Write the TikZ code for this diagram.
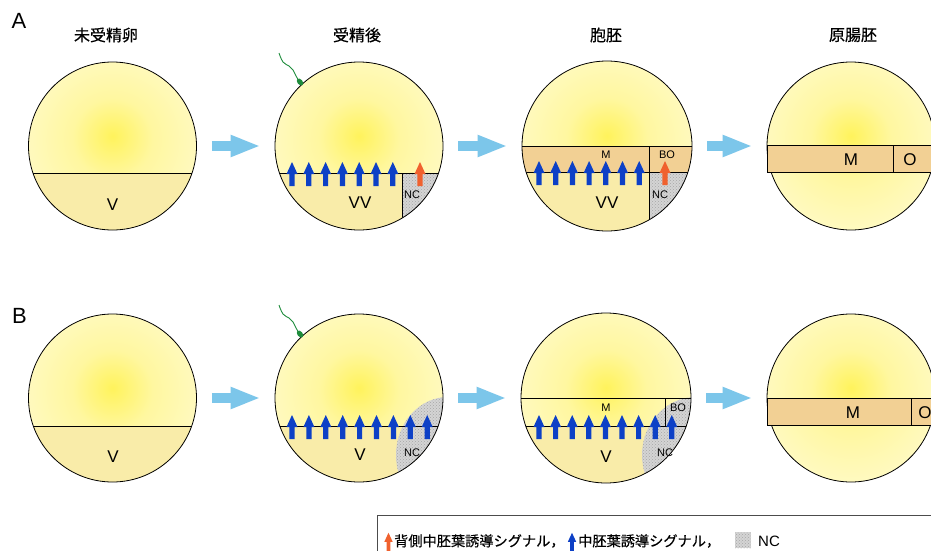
\documentclass[tikz,border=0pt]{standalone}
\usepackage{fontspec}
\setmainfont{Liberation Sans}
\newfontfamily\jp[FakeBold=0.4]{Noto Sans CJK JP}
\usetikzlibrary{arrows.meta,patterns}

\definecolor{eggin}{HTML}{FFF35C}
\definecolor{eggmid}{HTML}{FFF7A0}
\definecolor{eggout}{HTML}{FFFCDA}
\definecolor{yolk}{HTML}{F9ECA9}
\definecolor{meso}{HTML}{F2D094}
\definecolor{ncgray}{HTML}{D4D4D4}
\definecolor{sigblue}{HTML}{0D40C6}
\definecolor{sigorange}{HTML}{F0612E}
\definecolor{flowblue}{HTML}{7CC6EA}
\definecolor{spermgreen}{HTML}{1E8C3C}

% yellow glow of the egg cytoplasm, slightly above the centre
\pgfdeclareradialshading{egg}{\pgfpoint{0bp}{3bp}}{color(0bp)=(eggin); color(12bp)=(eggmid); color(38bp)=(eggout); color(50bp)=(eggout)}

\tikzset{
  cut/.style={draw=black, line width=0.8pt},
  ncfill/.style={preaction={fill=ncgray}, pattern=crosshatch dots, pattern color=gray!70},
  lab/.style={font=\fontsize{17}{17}\selectfont, inner sep=0},
  biglab/.style={font=\fontsize{22}{22}\selectfont, inner sep=0},
  small/.style={font=\fontsize{11}{11}\selectfont, inner sep=0},
  title/.style={font=\jp\fontsize{16}{16}\selectfont, inner sep=0},
  legtext/.style={font=\jp\fontsize{14.2}{14.2}\selectfont, inner sep=0, anchor=west},
  eggnode/.style={circle, minimum size=#1, inner sep=0, draw=black, line width=0.8pt},
  eggnode/.default=168pt,
  flow/.style={line width=10pt, draw=flowblue, -{Triangle[length=30pt,width=20pt]}, shorten <=15pt, shorten >=14pt},
  sig/.pic={\fill[pic actions] (0,-11) -- (5.5,1) -- (2.6,1) -- (2.6,13) -- (-2.6,13) -- (-2.6,1) -- (-5.5,1) -- cycle;},
  sperm/.pic={
    \draw[spermgreen, line width=0.9pt] plot[smooth, tension=0.7] coordinates {(0,0) (4,9) (10,13) (14,17) (17,23) (20,28)};
    \fill[spermgreen, rotate around={-50:(21,29)}] (21,29) ellipse (4 and 2.6);
  },
}

\begin{document}
\begin{tikzpicture}[x=1pt, y=-1pt]
\useasboundingbox (0,0) rectangle (931,551);
\fill[white] (0,0) rectangle (931,551);

% ---------- row A ----------
\node[biglab] (labA) at (19,21) {A};
\node[title] (tA1) at (106,35) {未受精卵};
\node[title] (tA2) at (357,35) {受精後};
\node[title] (tA3) at (606,35) {胞胚};
\node[title] (tA4) at (853,35) {原腸胚};

% unfertilised egg
\begin{scope}
  \clip (112.5,146) circle (84);
  \shade[shading=egg] (112.5,146) circle (84);
  \fill[yolk] (20,173) rectangle (200,240);
  \draw[cut] (20,173) -- (200,173);
\end{scope}
\node[eggnode] (a1) at (112.5,146) {};
\node[lab] (a1v) at (112.5,205) {V};

% after fertilisation
\begin{scope}
  \clip (359,146) circle (84);
  \shade[shading=egg] (359,146) circle (84);
  \fill[yolk] (270,173) rectangle (402,240);
  \fill[ncfill] (402,173) rectangle (450,240);
  \draw[cut] (270,173) -- (450,173);
  \draw[cut] (402,173) -- (402,240);
\end{scope}
\node[eggnode] (a2) at (359,146) {};
\pic at (279,53) {sperm};
\foreach \i in {0,...,6} \pic[fill=sigblue] at ({292+16.8*\i},173) {sig};
\pic[fill=sigorange] at (420,173) {sig};
\node[lab] (a2v) at (360,203) {VV};
\node[small] (a2nc) at (412,195) {NC};

% blastula
\begin{scope}
  \clip (607,146) circle (85);
  \shade[shading=egg] (607,146) circle (85);
  \fill[meso] (520,146) rectangle (695,172);
  \fill[yolk] (520,172) rectangle (649,240);
  \fill[ncfill] (649,172) rectangle (695,240);
  \draw[cut] (520,146) -- (695,146);
  \draw[cut] (520,172) -- (695,172);
  \draw[cut] (649,146) -- (649,240);
\end{scope}
\node[eggnode=170pt] (a3) at (607,146) {};
\foreach \i in {0,...,6} \pic[fill=sigblue] at ({539+16.7*\i},172) {sig};
\pic[fill=sigorange] at (665,172) {sig};
\node[small] (a3m) at (606,155) {M};
\node[small] (a3bo) at (667,155) {BO};
\node[small] (a3nc) at (660,195) {NC};
\node[lab] (a3v) at (607,203) {VV};

% gastrula
\begin{scope}
  \clip (851,146) circle (84);
  \shade[shading=egg] (851,146) circle (84);
\end{scope}
\node[eggnode] (a4) at (851,146) {};
\fill[meso, cut] (767,145) rectangle (945,172);
\draw[cut] (893,145) -- (893,172);
\node[lab] (a4m) at (851,160) {M};
\node[lab] (a4o) at (910,160) {O};

\draw[flow] (a1) -- (a2);
\draw[flow] (a2) -- (a3);
\draw[flow] (a3) -- (a4);

% ---------- row B ----------
\node[biglab] (labB) at (19.5,316) {B};

% unfertilised egg
\begin{scope}
  \clip (112.5,398) circle (84);
  \shade[shading=egg] (112.5,398) circle (84);
  \fill[yolk] (20,426) rectangle (200,490);
  \draw[cut] (20,426) -- (200,426);
\end{scope}
\node[eggnode] (b1) at (112.5,398) {};
\node[lab] (b1v) at (113,457) {V};

% after fertilisation
\begin{scope}
  \clip (359,398) circle (84);
  \shade[shading=egg] (359,398) circle (84);
  \fill[yolk] (270,426) rectangle (450,490);
  \fill[ncfill] (448,455) ellipse (52 and 58);
  \draw[cut] (270,426) -- (450,426);
\end{scope}
\node[eggnode] (b2) at (359,398) {};
\pic at (279,305) {sperm};
\foreach \i in {0,...,8} \pic[fill=sigblue] at ({292+16.9*\i},426) {sig};
\node[lab] (b2v) at (360,455) {V};
\node[small] (b2nc) at (412,453) {NC};

% blastula
\begin{scope}
  \clip (606,398) circle (85);
  \shade[shading=egg] (606,398) circle (85);
  \fill[yolk] (515,426) rectangle (695,490);
  \fill[ncfill] (696,455) ellipse (54 and 58);
  \draw[cut] (515,398) -- (695,398);
  \draw[cut] (515,426) -- (695,426);
  \draw[cut] (665,398) -- (665,426);
\end{scope}
\node[eggnode=170pt] (b3) at (606,398) {};
\foreach \i in {0,...,8} \pic[fill=sigblue] at ({539+16.6*\i},426) {sig};
\node[small] (b3m) at (606,408) {M};
\node[small] (b3bo) at (678,408) {BO};
\node[small] (b3nc) at (665,453) {NC};
\node[lab] (b3v) at (606,457) {V};

% gastrula
\begin{scope}
  \clip (851,398) circle (84);
  \shade[shading=egg] (851,398) circle (84);
\end{scope}
\node[eggnode] (b4) at (851,398) {};
\fill[meso, cut] (767,398) rectangle (945,425);
\draw[cut] (911,398) -- (911,425);
\node[lab] (b4m) at (853,413) {M};
\node[lab] (b4o) at (925,413) {O};

\draw[flow] (b1) -- (b2);
\draw[flow] (b2) -- (b3);
\draw[flow] (b3) -- (b4);

% ---------- legend ----------
\draw[draw=black!70, line width=0.6pt] (377,515) rectangle (960,580);
\pic[fill=sigorange, scale=0.75] at (388.5,541) {sig};
\node[legtext] (legdorsal) at (394,541) {背側中胚葉誘導シグナル，};
\pic[fill=sigblue, scale=0.75] at (572,541) {sig};
\node[legtext] (legmeso) at (578,541) {中胚葉誘導シグナル，};
\fill[ncfill] (735,532) rectangle (751,548);
\node[font=\fontsize{15}{15}\selectfont, inner sep=0, anchor=west] (legnc) at (758,541) {NC};
\end{tikzpicture}
\end{document}
